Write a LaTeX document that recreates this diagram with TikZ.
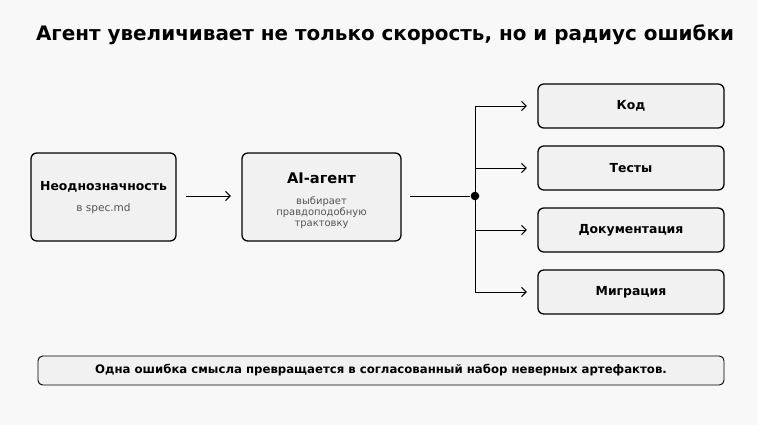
\documentclass[tikz,border=0pt]{standalone}
\usepackage{fontspec}
\setmainfont{DejaVu Sans}
\usetikzlibrary{positioning}
\usetikzlibrary{arrows.meta}
\definecolor{bgc}{HTML}{F8F8F8}
\definecolor{boxc}{HTML}{F1F1F1}
\definecolor{subc}{HTML}{555555}
\begin{document}
\begin{tikzpicture}[
  x=0.03cm, y=-0.03cm,
  box/.style={draw, line width=1.1pt, rounded corners=5pt, fill=boxc, align=center},
  lab/.style={font=\fontsize{10.6}{12}\selectfont\bfseries},
  sub/.style={font=\fontsize{9}{10.5}\selectfont, text=subc, align=center},
  arrow/.style={-{Straight Barb[length=4pt]}, thick},
  dot/.style={circle, fill=black, inner sep=2.6pt}
]
\fill[bgc] (0,0) rectangle (757,425);

% Title
\node[font=\fontsize{17}{20}\selectfont\bfseries] (title) at (385,35) {Агент увеличивает не только скорость, но и радиус ошибки};

% Left boxes
\node[box, minimum width=4.35cm, minimum height=2.64cm] (amb) at (103.5,197) {};
\node[lab] at (103.5,187) {Неоднозначность};
\node[sub] at (103.5,209) {в spec.md};

\node[box, minimum width=4.77cm, minimum height=2.64cm] (agent) at (321.5,197) {};
\node[font=\fontsize{12.5}{14}\selectfont\bfseries] at (321.5,178) {AI-агент};
\node[sub, font=\fontsize{8.5}{9.5}\selectfont] at (321.5,213) {выбирает\\правдоподобную\\трактовку};

% Right boxes
\node[box, minimum width=5.58cm, minimum height=1.32cm, lab] (code) at (631,106) {Код};
\node[box, minimum width=5.58cm, minimum height=1.32cm, lab] (tests) at (631,168) {Тесты};
\node[box, minimum width=5.58cm, minimum height=1.32cm, lab] (docs) at (631,230) {Документация};
\node[box, minimum width=5.58cm, minimum height=1.32cm, lab] (migr) at (631,292) {Миграция};

% Branching
\node[dot] (hub) at (475,196) {};
\coordinate (top) at (475,106);
\coordinate (bot) at (475,292);
\draw[arrow, shorten <=8pt, shorten >=9pt] (amb.east |- hub) -- (agent.west |- hub);
\draw[thick, shorten <=7pt] (agent.east |- hub) -- (hub);
\draw[thick] (top) -- (bot);
\foreach \t in {code, tests, docs, migr}
  \draw[arrow, shorten >=9pt] (top |- \t.west) -- (\t.west);

% Bottom note
\node[box, rounded corners=4pt, line width=0.8pt, minimum width=20.58cm, minimum height=0.87cm,
  font=\fontsize{10}{12}\selectfont\bfseries] (note) at (381,370.5)
  {Одна ошибка смысла превращается в согласованный набор неверных артефактов.};
\end{tikzpicture}
\end{document}
